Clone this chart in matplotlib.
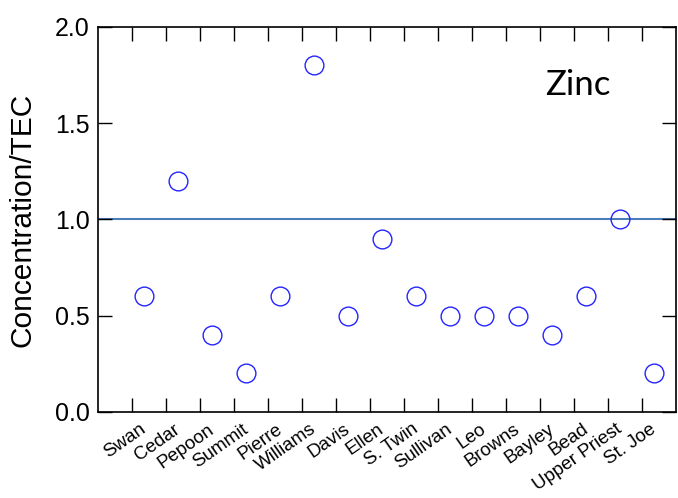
import numpy as np
import matplotlib.pyplot as plt

# sites and Zn concentration / TEC ratio
sites = ['Swan', 'Cedar', 'Pepoon', 'Summit', 'Pierre', 'Williams', 'Davis', 'Ellen',
         'S. Twin', 'Sullivan', 'Leo', 'Browns', 'Bayley', 'Bead', 'Upper Priest', 'St. Joe']
ratio = [0.6, 1.2, 0.4, 0.2, 0.6, 1.8, 0.5, 0.9, 0.6, 0.5, 0.5, 0.5, 0.4, 0.6, 1.0, 0.2]
yticks = [0.0, 0.5, 1.0, 1.5, 2.0]

plt.rcParams['font.family'] = ['Liberation Sans', 'DejaVu Sans']

fig = plt.figure(figsize=(6.78, 4.98), dpi=100)
ax = fig.add_axes([0.1445, 0.1727, 0.8525, 0.7731])

x = np.arange(len(sites))
ax.axhline(1.0, color='#4a7ebb', lw=1.5, zorder=1)
ax.plot(x, ratio, 'o', ms=13.5, mfc='none', mec='#2424ff', mew=1.0, zorder=3)

ax.set_xlim(-1.35, len(sites) - 0.35)
ax.set_ylim(0, 2.0)

tick_pos = x - 0.35
ax.set_xticks(tick_pos)
ax.set_xticklabels([])
for p, name in zip(tick_pos, sites):
    ax.text(p + 0.22, -0.045, name, rotation=35, ha='right', va='top',
            rotation_mode='anchor', fontsize=13.5, transform=ax.transData, clip_on=False)

ax.set_yticks(yticks)
ax.set_yticklabels(['%.1f' % v for v in yticks], fontsize=18)
ax.tick_params(direction='in', length=10, width=1, top=True, right=True, pad=6)
ax.set_ylabel('Concentration/TEC', fontsize=21.5, labelpad=13)

for s in ax.spines.values():
    s.set_linewidth(1.2)

ax.text(0.83, 0.85, 'Zinc', transform=ax.transAxes, fontsize=25,
        family=['Lato', 'DejaVu Sans'], ha='center', va='center')

fig.savefig('out.png', dpi=100)
